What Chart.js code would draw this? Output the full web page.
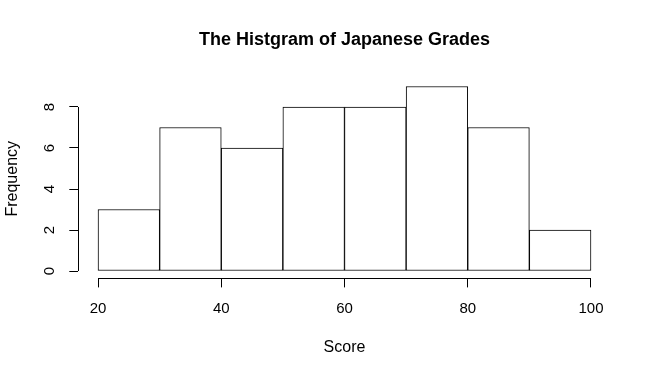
<!DOCTYPE html>
<html>
<head>
<meta charset="utf-8">
<script src="https://cdn.jsdelivr.net/npm/chart.js@4"></script>
<style>
  body { margin: 0; background: #fff; }
  #wrap { width: 651px; height: 377px; }
</style>
</head>
<body>
<div id="wrap"><canvas id="histChart"></canvas></div>
<script>
// histogram data - bin edges and counts
const breaks = [20, 30, 40, 50, 60, 70, 80, 90, 100];
const counts = [3, 7, 6, 8, 8, 9, 7, 2];
const xTicks = [20, 40, 60, 80, 100];
const yTicks = [0, 2, 4, 6, 8];

const FONT = 'Liberation Sans, Arial, Helvetica, sans-serif';

// bars sit at bin midpoints on a linear x scale
const points = counts.map((c, i) => ({ x: (breaks[i] + breaks[i + 1]) / 2, y: c }));

// R style axes: line only spans first to last tick
const rAxisLines = {
  id: 'rAxisLines',
  afterLayout(chart) {
    // R centres the main title over the plot region, not the whole device
    if (chart.titleBlock) {
      chart.titleBlock.left = chart.chartArea.left;
      chart.titleBlock.right = chart.chartArea.right;
    }
  },
  afterDraw(chart) {
    const { ctx, chartArea, scales } = chart;
    ctx.save();
    ctx.strokeStyle = '#000';
    ctx.lineWidth = 1;
    ctx.beginPath();
    const yb = Math.round(chartArea.bottom) + 0.5;
    ctx.moveTo(scales.x.getPixelForValue(xTicks[0]), yb);
    ctx.lineTo(scales.x.getPixelForValue(xTicks[xTicks.length - 1]), yb);
    const xl = Math.round(chartArea.left) + 0.5;
    ctx.moveTo(xl, scales.y.getPixelForValue(yTicks[0]));
    ctx.lineTo(xl, scales.y.getPixelForValue(yTicks[yTicks.length - 1]));
    ctx.stroke();
    ctx.restore();
  }
};

new Chart(document.getElementById('histChart'), {
  type: 'bar',
  data: {
    datasets: [{
      data: points,
      backgroundColor: '#ffffff',
      borderColor: '#000000',
      borderWidth: 1,
      borderSkipped: false,
      barPercentage: 1,
      categoryPercentage: 1
    }]
  },
  options: {
    responsive: true,
    maintainAspectRatio: false,
    animation: false,
    layout: { padding: { left: 0, right: 40.3, top: 0, bottom: 0 } },
    plugins: {
      legend: { display: false },
      tooltip: { enabled: false },
      title: {
        display: true,
        text: 'The Histgram of Japanese Grades',
        color: '#000',
        font: { family: FONT, size: 18, weight: 'bold' },
        padding: { top: 29.7, bottom: 27.8 }
      }
    },
    scales: {
      x: {
        type: 'linear',
        min: 16.8,
        max: 103.2,
        offset: false,
        border: { display: false },
        grid: { drawOnChartArea: false, offset: false, color: '#000', tickLength: 9 },
        ticks: {
          includeBounds: false,
          stepSize: 20,
          color: '#000',
          padding: 12,
          maxRotation: 0,
          font: { family: FONT, size: 15 }
        },
        title: {
          display: true,
          text: 'Score',
          color: '#000',
          font: { family: FONT, size: 16 },
          padding: { top: 0, bottom: 19.4 }
        },
        afterFit(scale) { scale.height = 98.6; }
      },
      y: {
        min: -0.36,
        max: 9.36,
        border: { display: false },
        grid: { drawOnChartArea: false, color: '#000', tickLength: 9 },
        ticks: {
          includeBounds: false,
          stepSize: 2,
          color: '#000',
          minRotation: 90,
          maxRotation: 90,
          crossAlign: 'center',
          padding: 15,
          font: { family: FONT, size: 15 }
        },
        title: {
          display: true,
          text: 'Frequency',
          color: '#000',
          font: { family: FONT, size: 16 },
          padding: { top: 3.4, bottom: 0 }
        },
        afterFit(scale) { scale.width = 78.3; }
      }
    }
  },
  plugins: [rAxisLines]
});
</script>
</body>
</html>
